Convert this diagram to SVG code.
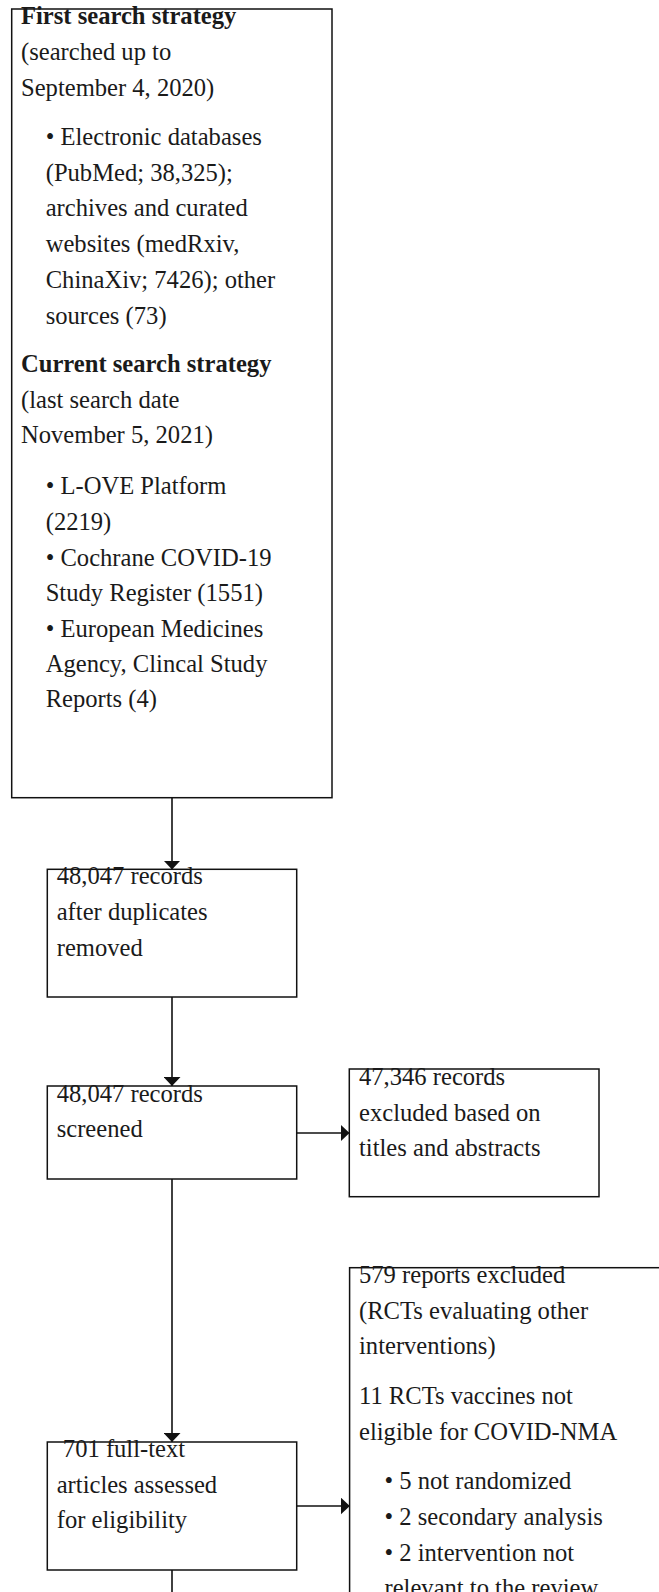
<svg xmlns="http://www.w3.org/2000/svg" width="659" height="1592" viewBox="0 0 659 1592">
<style>
.box{fill:#fff;stroke:#111;stroke-width:1.5}
text{font-family:"Liberation Serif","Times New Roman",serif;font-size:24.6px;fill:#1a1a1a}
.b{font-weight:bold}
.edge{stroke:#111;stroke-width:1.6;fill:none}
</style>
<defs>
<marker id="arr" viewBox="0 0 9 17" refX="9" refY="8.5" markerWidth="9" markerHeight="17" markerUnits="userSpaceOnUse" orient="auto">
<path d="M0,0 L9,8.5 L0,17 z" fill="#111"/>
</marker>
</defs>
<g id="connectors">
<line class="edge" x1="172" y1="798" x2="172" y2="869.5" marker-end="url(#arr)"/>
<line class="edge" x1="172" y1="997" x2="172" y2="1086" marker-end="url(#arr)"/>
<line class="edge" x1="172" y1="1179" x2="172" y2="1442" marker-end="url(#arr)"/>
<line class="edge" x1="172" y1="1570" x2="172" y2="1592"/>
<line class="edge" x1="296.7" y1="1133" x2="349.5" y2="1133" marker-end="url(#arr)"/>
<line class="edge" x1="296.7" y1="1506" x2="349.8" y2="1506" marker-end="url(#arr)"/>
</g>
<g id="search">
<rect class="box" x="11.7" y="9" width="320.3" height="788.7"/>
<text x="21" y="24" class="b">First search strategy</text>
<text x="21" y="60">(searched up to</text>
<text x="21" y="96">September 4, 2020)</text>
<text x="45.7" y="145">• Electronic databases</text>
<text x="45.7" y="181">(PubMed; 38,325);</text>
<text x="45.7" y="216">archives and curated</text>
<text x="45.7" y="252">websites (medRxiv,</text>
<text x="45.7" y="288">ChinaXiv; 7426); other</text>
<text x="45.7" y="324">sources (73)</text>
<text x="21" y="372" class="b">Current search strategy</text>
<text x="21" y="408">(last search date</text>
<text x="21" y="443">November 5, 2021)</text>
<text x="45.7" y="494">• L-OVE Platform</text>
<text x="45.7" y="530">(2219)</text>
<text x="45.7" y="566">• Cochrane COVID-19</text>
<text x="45.7" y="601">Study Register (1551)</text>
<text x="45.7" y="637">• European Medicines</text>
<text x="45.7" y="672">Agency, Clincal Study</text>
<text x="45.7" y="707">Reports (4)</text>
</g>
<g id="dedup">
<rect class="box" x="47.3" y="869.3" width="249.4" height="127.7"/>
<text x="56.7" y="884">48,047 records</text>
<text x="56.7" y="920">after duplicates</text>
<text x="56.7" y="956">removed</text>
</g>
<g id="screened">
<rect class="box" x="47.3" y="1086" width="249.4" height="93"/>
<text x="56.7" y="1101.7">48,047 records</text>
<text x="56.7" y="1137">screened</text>
</g>
<g id="excluded1">
<rect class="box" x="349.3" y="1069" width="249.7" height="127.7"/>
<text x="359" y="1085">47,346 records</text>
<text x="359" y="1120.7">excluded based on</text>
<text x="359" y="1156">titles and abstracts</text>
</g>
<g id="fulltext">
<rect class="box" x="47.3" y="1442" width="249.4" height="128"/>
<text x="56.7" y="1457.3" xml:space="preserve" style="white-space:pre"> 701 full-text</text>
<text x="56.7" y="1493.3">articles assessed</text>
<text x="56.7" y="1528">for eligibility</text>
</g>
<g id="excluded2">
<rect class="box" x="349.6" y="1267.7" width="330" height="360"/>
<text x="359" y="1283.3">579 reports excluded</text>
<text x="359" y="1319.3">(RCTs evaluating other</text>
<text x="359" y="1354">interventions)</text>
<text x="359" y="1404">11 RCTs vaccines not</text>
<text x="359" y="1440">eligible for COVID-NMA</text>
<text x="384.5" y="1489.3">• 5 not randomized</text>
<text x="384.5" y="1525">• 2 secondary analysis</text>
<text x="384.5" y="1560.5">• 2 intervention not</text>
<text x="384.5" y="1596">relevant to the review</text>
</g>
</svg>
